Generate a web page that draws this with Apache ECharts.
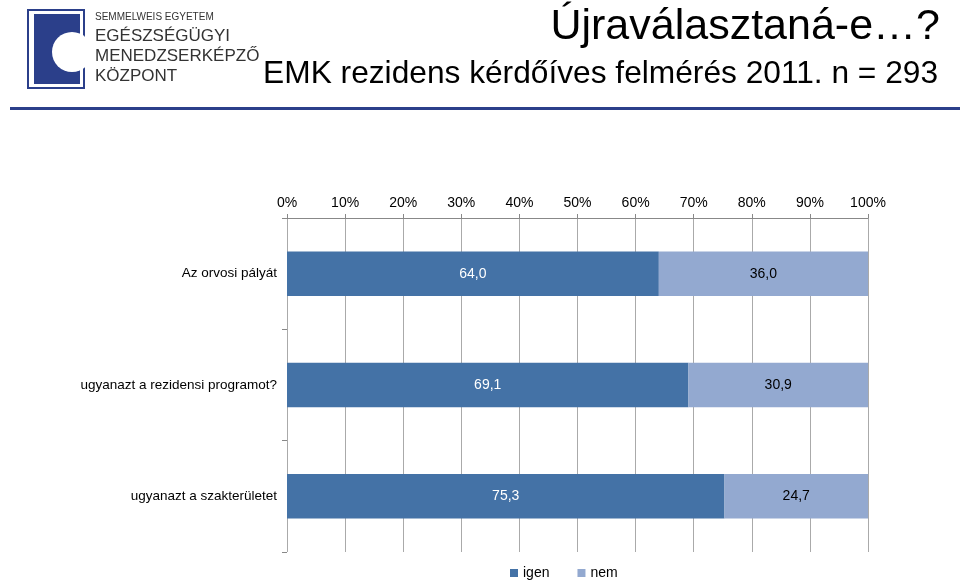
<!DOCTYPE html>
<html><head><meta charset="utf-8">
<script src="https://cdn.jsdelivr.net/npm/echarts@6/dist/echarts.min.js"></script>
<style>html,body{margin:0;background:#fff}#chart{width:960px;height:585px}</style>
</head><body><div id="chart"></div>
<script>
const categories = ['Az orvosi pályát', 'ugyanazt a rezidensi programot?', 'ugyanazt a szakterületet'];
const igen = [64.0, 69.1, 75.3];
const nem = [36.0, 30.9, 24.7];
const fmt = p => p.value.toFixed(1).replace('.', ',');

const logoFont = 'Liberation Sans, Arial';
const chart = echarts.init(document.getElementById('chart'));
chart.setOption({
  textStyle: {fontFamily: 'Liberation Sans, Arial'},
  graphic: [
    {type: 'rect', shape: {x: 28, y: 10, width: 56, height: 78}, style: {fill: '#fff', stroke: '#2b3f8a', lineWidth: 2}},
    {type: 'rect', shape: {x: 34, y: 14, width: 46, height: 70}, style: {fill: '#2b3f8a'}},
    {type: 'circle', shape: {cx: 72, cy: 52, r: 20}, style: {fill: '#fff'}},
    {type: 'text', left: 95, top: 12, style: {text: 'SEMMELWEIS EGYETEM', fontSize: 10, fill: '#333', fontFamily: logoFont}},
    {type: 'text', left: 95, top: 28, style: {text: 'EGÉSZSÉGÜGYI', fontSize: 17, fill: '#333', fontFamily: logoFont}},
    {type: 'text', left: 95, top: 48, style: {text: 'MENEDZSERKÉPZŐ', fontSize: 17, fill: '#333', fontFamily: logoFont}},
    {type: 'text', left: 95, top: 68, style: {text: 'KÖZPONT', fontSize: 17, fill: '#333', fontFamily: logoFont}},
    {type: 'text', right: 20, top: 6, style: {text: 'Újraválasztaná-e…?', fontSize: 43, fill: '#000'}},
    {type: 'text', right: 22, top: 58, style: {text: 'EMK rezidens kérdőíves felmérés 2011. n = 293', fontSize: 31.7, fill: '#000'}},
    {type: 'rect', shape: {x: 10, y: 107, width: 950, height: 3}, style: {fill: '#2b3f8a'}}
  ],
  legend: {
    bottom: 0, left: 505, itemWidth: 8, itemHeight: 8, itemGap: 28,
    icon: 'rect', textStyle: {fontSize: 14, color: '#000'},
    data: ['igen', 'nem']
  },
  grid: {left: 287, right: 92, top: 218, bottom: 33},
  xAxis: {
    type: 'value', position: 'top', min: 0, max: 100, interval: 10,
    axisLabel: {formatter: '{value}%', fontSize: 14, color: '#000'},
    axisLine: {show: true, lineStyle: {color: '#888'}},
    axisTick: {show: true, length: 4, lineStyle: {color: '#888'}},
    splitLine: {lineStyle: {color: '#aaa'}}
  },
  yAxis: {
    type: 'category', inverse: true, data: categories,
    axisLabel: {fontSize: 13.5, color: '#000', margin: 10},
    axisLine: {show: false},
    axisTick: {show: true, length: 5, lineStyle: {color: '#888'}}
  },
  series: [
    {name: 'igen', type: 'bar', stack: 'a', data: igen, barWidth: '40%',
      itemStyle: {color: '#4472a6'},
      label: {show: true, formatter: fmt, color: '#fff', fontSize: 14}},
    {name: 'nem', type: 'bar', stack: 'a', data: nem,
      itemStyle: {color: '#93a9d0'},
      label: {show: true, formatter: fmt, color: '#000', fontSize: 14}}
  ]
});
</script></body></html>
